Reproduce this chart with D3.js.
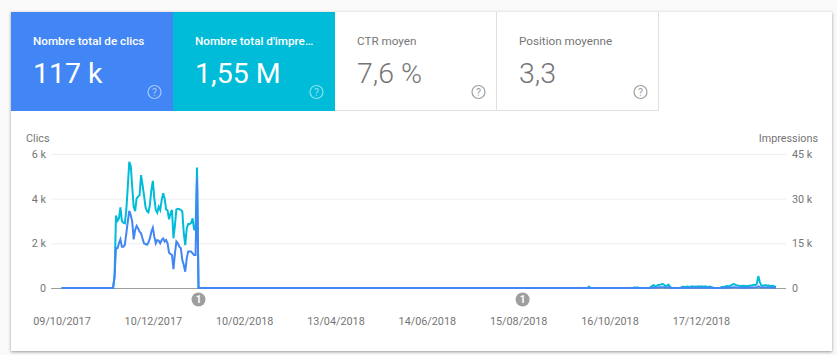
<!DOCTYPE html>
<html>
<head>
<meta charset="utf-8">
<script src="https://cdn.jsdelivr.net/npm/d3@7"></script>
<style>
  html, body { margin: 0; padding: 0; background: #f9f9f9; overflow: hidden; }
  svg { display: block; font-family: Roboto, sans-serif; }
</style>
</head>
<body>
<div id="chart"></div>
<script>
// tiles
const tileLabels = ["Nombre total de clics", "Nombre total d'impre…", "CTR moyen", "Position moyenne"];
const tileValues = ["117 k", "1,55 M", "7,6 %", "3,3"];

// axes
const clickTicks = [0, 2000, 4000, 6000];
const impressionTicks = [0, 15000, 30000, 45000];
const dateTicks = ["09/10/2017", "10/12/2017", "10/02/2018", "13/04/2018", "14/06/2018", "15/08/2018", "16/10/2018", "17/12/2018"];
const annotationDates = ["10/01/2018", "18/08/2018"];
const firstDate = "09/10/2017";

// the busy period, one value a day from 14/11/2017 (day 36)
const burstStart = 36;
const burstClicks = [500, 1780, 1780, 2000, 2180, 1850, 1850, 1930, 2450, 2970, 3450, 3270, 2970, 2180, 2600, 2780, 2670, 2520, 2450, 2220, 2000, 1970, 1930, 2030, 2220, 2520, 2700, 2300, 2000, 2150, 2120, 2000, 2150, 2220, 2080, 2150, 2000, 1580, 1520, 1480, 840, 1550, 2080, 2000, 1850, 1780, 1250, 1030, 730, 1330, 1630, 1630, 1630, 1550, 1480, 1480, 4930, 0];
const burstImpressions = [3800, 24300, 22600, 23400, 27100, 22500, 21900, 21700, 26200, 34000, 42400, 41000, 34000, 27300, 25800, 30100, 30700, 31200, 37900, 34600, 31200, 27300, 25800, 25400, 27900, 32900, 36000, 30100, 26200, 25300, 27300, 26200, 29500, 31800, 30100, 26400, 26000, 23100, 25100, 26200, 16700, 21100, 26400, 26600, 26500, 26200, 25700, 18400, 14400, 20000, 21500, 21500, 21900, 23400, 19700, 19500, 40500, 0];

// a few lone bumps in the quiet months
const bumpDays = [357, 358, 359, 388, 389, 390, 391, 392, 393];
const bumpImpressions = [0, 450, 0, 0, 250, 0, 200, 0, 0];

// the end of the period, one value a day from day 395
const tailStart = 395;
const tailImpressions = [0, 0, 0, 0, 100, 300,
  750, 950, 600, 700, 1000, 1050, 1150, 1400, 1100, 650, 800, 1150, 500,
  0, 0, 0, 0, 0, 0, 0,
  300, 450, 250, 400, 500, 350, 450, 550, 400, 500, 450, 600, 450, 550, 500, 400, 550, 450, 300, 500, 350, 150, 0, 0, 0, 0, 100,
  300, 450, 350, 600, 700, 500, 800, 1050,
  1350, 1200, 950, 850, 800, 700, 650, 750, 650, 700, 600, 800, 750, 900, 1050, 950, 1400,
  4000, 2000,
  850, 700, 950, 900, 800, 850, 700, 650, 750, 550, 450];
const tailClicks = [0, 0, 0, 0, 5, 10,
  20, 25, 15, 20, 25, 30, 30, 35, 30, 15, 20, 30, 15,
  0, 0, 0, 0, 0, 0, 0,
  10, 10, 5, 10, 15, 10, 10, 15, 10, 15, 10, 15, 10, 15, 15, 10, 15, 10, 10, 15, 10, 5, 0, 0, 0, 0, 5,
  10, 10, 10, 15, 20, 15, 20, 25,
  35, 30, 25, 20, 20, 20, 15, 20, 15, 20, 15, 20, 20, 25, 25, 25, 35,
  70, 40,
  20, 20, 25, 25, 20, 20, 20, 15, 20, 15, 10];
const lastDay = 485;

const blue = "#4285f4";
const teal = "#00bcd8";

const parseDate = d3.utcParse("%d/%m/%Y");
const formatDate = d3.utcFormat("%d/%m/%Y");
const dayToDate = d => d3.utcDay.offset(parseDate(firstDate), d);

function buildSeries(burst, bumps, tail) {
  let pts = [[0, 0], [burstStart - 1, 0]];
  burst.forEach((v, i) => pts.push([burstStart + i, v]));
  bumps.forEach((v, i) => pts.push([bumpDays[i], v]));
  tail.forEach((v, i) => pts.push([tailStart + i, v]));
  return pts.map(p => ({ date: dayToDate(p[0]), value: p[1] }));
}

const clickSeries = buildSeries(burstClicks, bumpDays.map(() => 0), tailClicks);
const impressionSeries = buildSeries(burstImpressions, bumpImpressions, tailImpressions);

let svg = d3.select("#chart")
    .append("svg")
    .attr("width", 837)
    .attr("height", 355);

// card
svg.append("rect")
    .attr("x", 11)
    .attr("y", 12)
    .attr("width", 821)
    .attr("height", 339)
    .attr("fill", "white")
    .style("filter", "drop-shadow(0px 1px 1.5px rgba(0,0,0,0.4))");

// tiles
const tileX = [11, 173, 335, 497];
const tileW = [162, 162, 162, 162];
const tileFill = [blue, teal, "white", "white"];
const questionX = [154.5, 316.5, 478.5, 640.5];

let tiles = svg.selectAll(".tile")
    .data(tileLabels)
    .enter()
    .append("g")
    .attr("class", "tile")
    .attr("transform", (d, i) => `translate(${tileX[i]}, 12)`);

tiles.append("rect")
    .attr("width", (d, i) => tileW[i])
    .attr("height", 99)
    .attr("fill", (d, i) => tileFill[i]);

tiles.append("text")
    .attr("x", 22)
    .attr("y", 33)
    .style("font-size", "11.7px")
    .style("font-weight", (d, i) => i < 2 ? 500 : 400)
    .attr("fill", (d, i) => i < 2 ? "white" : "#757575")
    .text(d => d);

tiles.append("text")
    .attr("x", 22)
    .attr("y", 70.5)
    .style("font-size", "28.5px")
    .style("font-weight", (d, i) => i < 2 ? 400 : 300)
    .attr("fill", (d, i) => i < 2 ? "white" : "#757575")
    .text((d, i) => tileValues[i]);

tiles.append("circle")
    .attr("cx", (d, i) => questionX[i] - tileX[i])
    .attr("cy", 80)
    .attr("r", 6.5)
    .attr("fill", "none")
    .attr("stroke", (d, i) => i < 2 ? "rgba(255,255,255,0.55)" : "#9e9e9e")
    .attr("stroke-width", 1.2);

tiles.append("text")
    .attr("x", (d, i) => questionX[i] - tileX[i])
    .attr("y", 84)
    .attr("text-anchor", "middle")
    .style("font-size", "10.5px")
    .attr("fill", (d, i) => i < 2 ? "rgba(255,255,255,0.55)" : "#9e9e9e")
    .text("?");

// tile borders on the white tiles
svg.append("path")
    .attr("d", "M335.5,110.5H658.5V12M496.5,12V110.5")
    .attr("fill", "none")
    .attr("stroke", "#e0e0e0");

// scales
const x = d3.scaleUtc()
    .domain([parseDate(firstDate), dayToDate(lastDay)])
    .range([61.5, 776]);
const yClicks = d3.scaleLinear()
    .domain([0, 6000])
    .range([288, 154]);
const yImpressions = d3.scaleLinear()
    .domain([0, 45000])
    .range([288, 154]);

const thousands = d => d === 0 ? "0" : (d / 1000) + " k";

let leftAxis = svg.append("g")
    .attr("transform", "translate(51, 0)")
    .call(d3.axisLeft(yClicks).tickValues(clickTicks).tickFormat(thousands).tickSizeInner(-735).tickSizeOuter(0).tickPadding(5));
let rightAxis = svg.append("g")
    .attr("transform", "translate(786, 0)")
    .call(d3.axisRight(yImpressions).tickValues(impressionTicks).tickFormat(thousands).tickSize(0).tickPadding(6));
let bottomAxis = svg.append("g")
    .attr("transform", "translate(0, 288)")
    .call(d3.axisBottom(x).tickValues(dateTicks.map(parseDate)).tickFormat(formatDate).tickSize(0).tickPadding(29));

[leftAxis, rightAxis, bottomAxis].forEach(a => {
    a.select(".domain").remove();
    a.selectAll("text")
        .attr("fill", "#757575")
        .style("font-family", "Roboto, sans-serif")
        .style("font-size", "10.8px");
});
leftAxis.selectAll(".tick line")
    .attr("stroke", d => d === 0 ? "#9e9e9e" : "#eeeeee");

svg.append("text")
    .attr("x", 26)
    .attr("y", 142)
    .attr("fill", "#757575")
    .style("font-size", "10.8px")
    .text("Clics");
svg.append("text")
    .attr("x", 818)
    .attr("y", 142)
    .attr("text-anchor", "end")
    .attr("fill", "#757575")
    .style("font-size", "10.8px")
    .text("Impressions");

// lines
svg.append("path")
    .datum(impressionSeries)
    .attr("fill", "none")
    .attr("stroke", teal)
    .attr("stroke-width", 2)
    .attr("d", d3.line().x(d => x(d.date)).y(d => yImpressions(d.value)));
svg.append("path")
    .datum(clickSeries)
    .attr("fill", "none")
    .attr("stroke", blue)
    .attr("stroke-width", 2)
    .attr("d", d3.line().x(d => x(d.date)).y(d => yClicks(d.value)));

// annotations
let notes = svg.selectAll(".note")
    .data(annotationDates)
    .enter()
    .append("g")
    .attr("class", "note")
    .attr("transform", d => `translate(${x(parseDate(d))}, 299.5)`);
notes.append("circle")
    .attr("r", 7)
    .attr("fill", "#9e9e9e");
notes.append("text")
    .attr("y", 3.5)
    .attr("text-anchor", "middle")
    .attr("fill", "white")
    .style("font-size", "10px")
    .style("font-weight", 700)
    .text("1");
</script>
</body>
</html>
